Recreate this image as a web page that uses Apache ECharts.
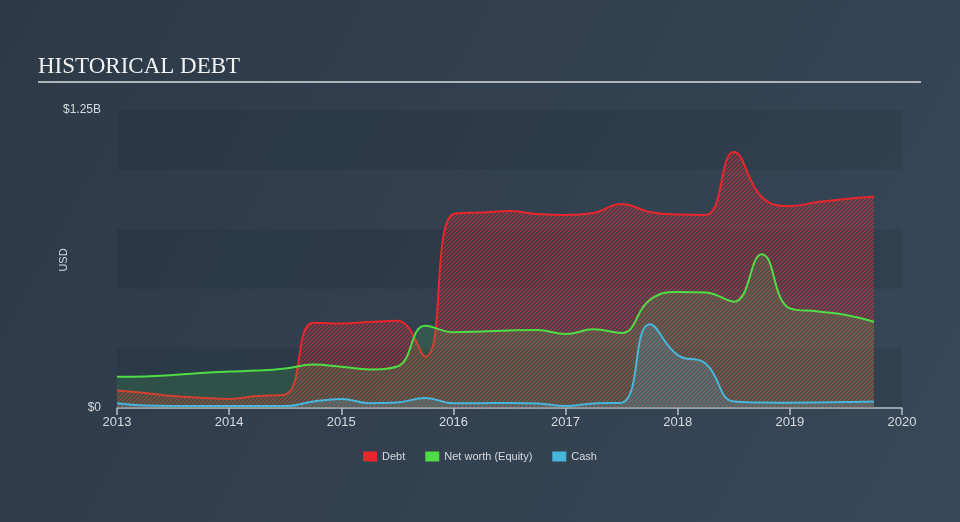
<!DOCTYPE html>
<html>
<head>
<meta charset="utf-8">
<style>
html,body{margin:0;padding:0;background:#303e4d;}
#chart{width:960px;height:522px;}
</style>
<script src="https://cdn.jsdelivr.net/npm/echarts@6/dist/echarts.min.js"></script>
</head>
<body>
<div id="chart"></div>
<script>
// Quarterly dates (fractional years)
var dates = [2013.0,2013.25,2013.5,2013.75,2014.0,2014.25,2014.5,2014.75,2015.0,2015.25,2015.5,2015.75,
             2016.0,2016.25,2016.5,2016.75,2017.0,2017.25,2017.5,2017.75,2018.0,2018.25,2018.5,2018.75,
             2019.0,2019.25,2019.5,2019.75];
// Values in billions USD
var debt   = [0.073,0.063,0.050,0.043,0.038,0.050,0.057,0.358,0.354,0.361,0.366,0.215,
              0.814,0.820,0.826,0.814,0.810,0.818,0.856,0.822,0.812,0.810,1.074,0.885,
              0.847,0.864,0.877,0.886];
var equity = [0.131,0.132,0.138,0.147,0.153,0.157,0.166,0.182,0.173,0.162,0.174,0.345,
              0.318,0.321,0.325,0.327,0.310,0.330,0.315,0.453,0.487,0.485,0.446,0.645,
              0.418,0.405,0.390,0.362];
var cash   = [0.020,0.010,0.008,0.008,0.008,0.008,0.008,0.027,0.038,0.020,0.023,0.042,
              0.020,0.020,0.021,0.019,0.008,0.019,0.022,0.351,0.222,0.186,0.027,0.023,
              0.022,0.023,0.025,0.027];
var yearTicks = [2013,2014,2015,2016,2017,2018,2019,2020];
var yTickLabels = {0: '$0', 1.25: '$1.25B'};
var seriesNames = ['Debt','Net worth (Equity)','Cash'];

function pairs(vals){ return dates.map(function(d,i){ return [d, vals[i]]; }); }

function hatch(stroke, bg){
  var s = 4, c = document.createElement('canvas');
  c.width = s; c.height = s;
  var g = c.getContext('2d');
  g.fillStyle = bg; g.fillRect(0,0,s,s);
  g.strokeStyle = stroke; g.lineWidth = 1.4;
  g.lineCap = 'square';
  g.beginPath();
  g.moveTo(0,s); g.lineTo(s,0);
  g.moveTo(-1,1); g.lineTo(1,-1);
  g.moveTo(s-1,s+1); g.lineTo(s+1,s-1);
  g.stroke();
  return c;
}

var chart = echarts.init(document.getElementById('chart'));
var red = '#e8262b', green = '#4fdd45', blue = '#47b6dc';
var axisCol = '#b7bec6', txt = '#d6dbe0';
var font = '"Liberation Sans", Arial, sans-serif';

chart.setOption({
  backgroundColor: new echarts.graphic.LinearGradient(0,0,1,1,[
    {offset:0,color:'#2d3947'},{offset:1,color:'#374858'}]),
  animation: false,
  graphic: [
    {type:'text', left:38, top:55, style:{text:'HISTORICAL DEBT', fill:'#f2f2f2',
      font:'23px "Liberation Serif", "DejaVu Serif", serif'}},
    {type:'line', shape:{x1:38,y1:82,x2:921,y2:82}, style:{stroke:'#aeb4bb', lineWidth:2}},
    {type:'text', x:64, y:260, rotation: Math.PI/2,
      style:{text:'USD', fill: txt, font:'11px ' + font, align:'center', verticalAlign:'middle'}}
  ],
  grid: {left:117, right:58, top:110, bottom:114},
  legend: {
    bottom: 55, left: 'center', itemWidth: 14, itemHeight: 10, itemGap: 20,
    icon: 'rect',
    textStyle: {color: txt, fontSize: 11, fontFamily: font},
    data: seriesNames
  },
  xAxis: {
    type: 'value', min: 2013, max: 2020, interval: 1,
    axisLine: {show: true, lineStyle: {color: axisCol, width: 1.5}},
    axisTick: {show: true, length: 7, lineStyle: {color: axisCol, width: 1.5}},
    splitLine: {show: false},
    axisLabel: {color: txt, fontSize: 13, margin: 8, fontFamily: font,
      formatter: function(v){ return yearTicks.indexOf(v) >= 0 ? String(v) : ''; }}
  },
  yAxis: {
    type: 'value', min: 0, max: 1.25, interval: 0.25,
    axisLine: {show: false}, axisTick: {show: false},
    splitLine: {show: false},
    splitArea: {show: true, areaStyle: {color: ['rgba(18,28,40,0.13)', 'rgba(0,0,0,0)']}},
    axisLabel: {color: txt, fontSize: 12, margin: 16, fontFamily: font,
      formatter: function(v){ return yTickLabels[v] !== undefined ? yTickLabels[v] : ''; }}
  },
  series: [
    {name: seriesNames[1], type: 'line', data: pairs(equity), smooth: 0.45, showSymbol: false,
     lineStyle: {color: green, width: 2}, itemStyle: {color: green},
     areaStyle: {color: 'rgba(75,224,75,0.2)'}, z: 2},
    {name: seriesNames[0], type: 'line', data: pairs(debt), smooth: 0.45, showSymbol: false,
     lineStyle: {color: red, width: 2}, itemStyle: {color: red},
     areaStyle: {color: {image: hatch('rgba(226,50,60,0.85)', 'rgba(232,40,50,0.06)'), repeat: 'repeat'}}, z: 1},
    {name: seriesNames[2], type: 'line', data: pairs(cash), smooth: 0.45, showSymbol: false,
     lineStyle: {color: blue, width: 2}, itemStyle: {color: blue},
     areaStyle: {color: 'rgba(74,184,224,0.28)'}, z: 3}
  ]
});
</script>
</body>
</html>
